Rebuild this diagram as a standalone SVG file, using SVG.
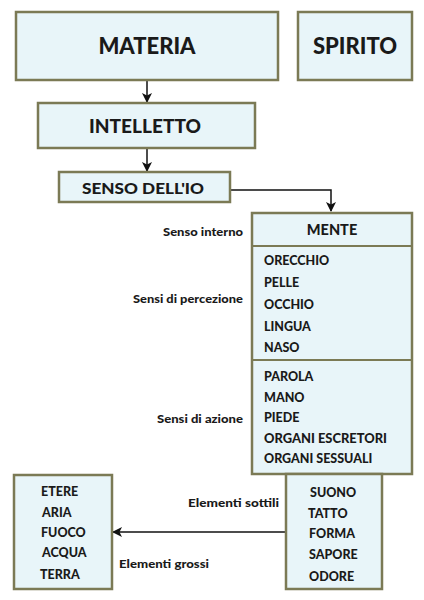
<svg xmlns="http://www.w3.org/2000/svg" width="424" height="600" viewBox="0 0 424 600">
<style>
.box{fill:#e8f5f9;stroke:#7b7a55;stroke-width:2.5}
.div{stroke:#7b7a55;stroke-width:2;fill:none}
text{font-family:Lato,"Open Sans","Liberation Sans",sans-serif;font-weight:900;fill:#1a1a1a}
.t1{font-size:22px;text-anchor:middle}
.t2{font-size:18px;text-anchor:middle}
.t3{font-size:15.5px;text-anchor:middle}
.it{font-size:12.5px}
.lb{font-size:12px;text-anchor:end}
.lbs{font-size:12px}
.con{stroke:#111;stroke-width:1.5;fill:none}
</style>
<defs>
<marker id="ah" markerWidth="10" markerHeight="10" refX="9" refY="5" orient="auto" markerUnits="userSpaceOnUse">
<path d="M0,0 L10,5 L0,10 L2.5,5 Z" fill="#111"/>
</marker>
</defs>
<rect width="424" height="600" fill="#ffffff"/>
<g id="connectors">
<line class="con" x1="147" y1="81" x2="147" y2="102" marker-end="url(#ah)"/>
<line class="con" x1="147" y1="149" x2="147" y2="171" marker-end="url(#ah)"/>
<polyline class="con" points="231,190 331,190 331,211" marker-end="url(#ah)"/>
<line class="con" x1="286" y1="532" x2="113" y2="532" marker-end="url(#ah)"/>
</g>
<g id="materia">
<rect class="box" x="16" y="12" width="262" height="68"/>
<text class="t1" x="147" y="54">MATERIA</text>
</g>
<g id="spirito">
<rect class="box" x="298" y="12" width="114" height="68"/>
<text class="t1" x="355" y="54">SPIRITO</text>
</g>
<g id="intelletto">
<rect class="box" x="38" y="103" width="217" height="45"/>
<text class="t2" x="145" y="133" textLength="112" lengthAdjust="spacingAndGlyphs">INTELLETTO</text>
</g>
<g id="senso">
<rect class="box" x="59" y="172" width="171" height="30"/>
<text class="t3" x="143" y="194" textLength="122" lengthAdjust="spacingAndGlyphs">SENSO DELL'IO</text>
</g>
<g id="mente">
<rect class="box" x="252" y="213" width="160" height="261"/>
<line class="div" x1="252" y1="246" x2="412" y2="246"/>
<line class="div" x1="252" y1="360" x2="412" y2="360"/>
<text x="332" y="235" style="font-size:14.5px;text-anchor:middle">MENTE</text>
<text class="it" x="264" y="265">ORECCHIO</text>
<text class="it" x="264" y="287">PELLE</text>
<text class="it" x="264" y="309">OCCHIO</text>
<text class="it" x="264" y="331">LINGUA</text>
<text class="it" x="264" y="352">NASO</text>
<text class="it" x="264" y="381">PAROLA</text>
<text class="it" x="264" y="402">MANO</text>
<text class="it" x="264" y="422">PIEDE</text>
<text class="it" x="264" y="443" textLength="123" lengthAdjust="spacingAndGlyphs">ORGANI ESCRETORI</text>
<text class="it" x="264" y="463">ORGANI SESSUALI</text>
</g>
<g id="sottili">
<rect class="box" x="286" y="474" width="96" height="115"/>
<text class="it" x="310" y="497">SUONO</text>
<text class="it" x="308" y="518">TATTO</text>
<text class="it" x="309" y="538">FORMA</text>
<text class="it" x="309" y="559">SAPORE</text>
<text class="it" x="309" y="581">ODORE</text>
</g>
<g id="grossi">
<rect class="box" x="14" y="475" width="98" height="114"/>
<text class="it" x="41" y="496">ETERE</text>
<text class="it" x="42" y="517">ARIA</text>
<text class="it" x="41" y="537">FUOCO</text>
<text class="it" x="42" y="557">ACQUA</text>
<text class="it" x="40" y="579">TERRA</text>
</g>
<g id="labels">
<text class="lb" x="243" y="236" textLength="80" lengthAdjust="spacingAndGlyphs">Senso interno</text>
<text class="lb" x="243" y="303" textLength="110" lengthAdjust="spacingAndGlyphs">Sensi di percezione</text>
<text class="lb" x="243" y="423" textLength="86" lengthAdjust="spacingAndGlyphs">Sensi di azione</text>
<text class="lbs" x="188" y="507" textLength="91" lengthAdjust="spacingAndGlyphs">Elementi sottili</text>
<text class="lbs" x="119" y="568" textLength="90" lengthAdjust="spacingAndGlyphs">Elementi grossi</text>
</g>
</svg>
